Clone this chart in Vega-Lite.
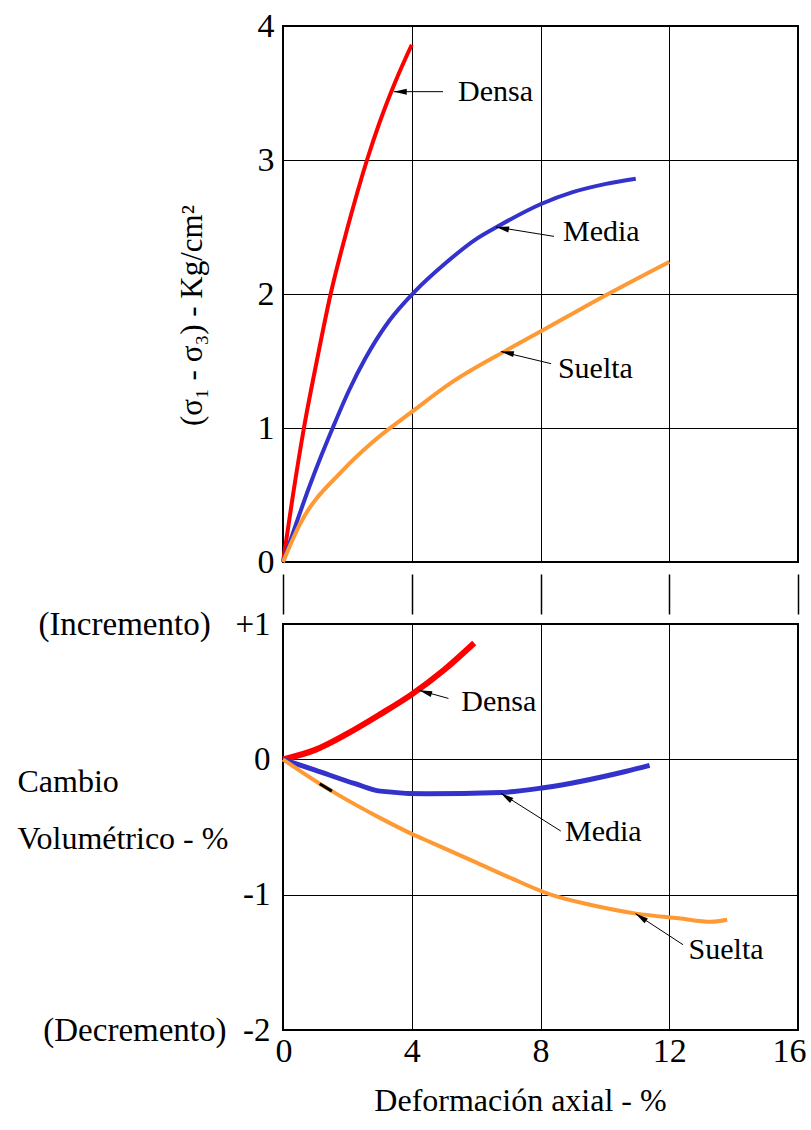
{
  "$schema": "https://vega.github.io/schema/vega-lite/v6.json",
  "background": "white",
  "padding": {"left": 16, "top": 8, "right": 0, "bottom": 0},
  "bounds": "flush",
  "spacing": 62,
  "config": {
    "view": {"stroke": "black", "strokeWidth": 2},
    "font": "Liberation Serif",
    "axis": {
      "labelFont": "Liberation Serif",
      "titleFont": "Liberation Serif",
      "labelColor": "black",
      "titleColor": "black",
      "titleFontWeight": "normal",
      "gridColor": "black",
      "gridOpacity": 1,
      "gridWidth": 1,
      "domain": false,
      "ticks": false,
      "labelFlush": false,
      "labelLimit": 0,
      "labelOverlap": false
    }
  },
  "datasets": {
    "esfuerzo": [
      {"serie": "Densa", "x": 0, "y": 0},
      {"serie": "Densa", "x": 0.31, "y": 0.5},
      {"serie": "Densa", "x": 0.65, "y": 1.0},
      {"serie": "Densa", "x": 1.05, "y": 1.5},
      {"serie": "Densa", "x": 1.48, "y": 2.0},
      {"serie": "Densa", "x": 2.0, "y": 2.49},
      {"serie": "Densa", "x": 2.61, "y": 3.0},
      {"serie": "Densa", "x": 3.0, "y": 3.28},
      {"serie": "Densa", "x": 3.5, "y": 3.59},
      {"serie": "Densa", "x": 4.0, "y": 3.86},
      {"serie": "Media", "x": 0, "y": 0},
      {"serie": "Media", "x": 0.4, "y": 0.28},
      {"serie": "Media", "x": 0.8, "y": 0.55},
      {"serie": "Media", "x": 1.2, "y": 0.8},
      {"serie": "Media", "x": 1.56, "y": 1.01},
      {"serie": "Media", "x": 2.05, "y": 1.28},
      {"serie": "Media", "x": 2.56, "y": 1.52},
      {"serie": "Media", "x": 3.3, "y": 1.8},
      {"serie": "Media", "x": 4.1, "y": 2.02},
      {"serie": "Media", "x": 5.0, "y": 2.22},
      {"serie": "Media", "x": 6.0, "y": 2.41},
      {"serie": "Media", "x": 6.64, "y": 2.5},
      {"serie": "Media", "x": 8.0, "y": 2.67},
      {"serie": "Media", "x": 9.0, "y": 2.76},
      {"serie": "Media", "x": 10.0, "y": 2.82},
      {"serie": "Media", "x": 10.96, "y": 2.86},
      {"serie": "Suelta", "x": 0, "y": 0},
      {"serie": "Suelta", "x": 0.5, "y": 0.27},
      {"serie": "Suelta", "x": 1.84, "y": 0.68},
      {"serie": "Suelta", "x": 2.76, "y": 0.89},
      {"serie": "Suelta", "x": 4.0, "y": 1.12},
      {"serie": "Suelta", "x": 5.24, "y": 1.34},
      {"serie": "Suelta", "x": 6.87, "y": 1.57},
      {"serie": "Suelta", "x": 8.0, "y": 1.72},
      {"serie": "Suelta", "x": 10.1, "y": 2.0},
      {"serie": "Suelta", "x": 12.0, "y": 2.24}
    ],
    "volumen": [
      {"serie": "Densa", "x": 0, "y": 0},
      {"serie": "Densa", "x": 1.0, "y": 0.07},
      {"serie": "Densa", "x": 2.0, "y": 0.19},
      {"serie": "Densa", "x": 3.0, "y": 0.33},
      {"serie": "Densa", "x": 4.0, "y": 0.48},
      {"serie": "Densa", "x": 5.0, "y": 0.66},
      {"serie": "Densa", "x": 5.94, "y": 0.86},
      {"serie": "Media", "x": 0, "y": 0},
      {"serie": "Media", "x": 1.0, "y": -0.08},
      {"serie": "Media", "x": 2.24, "y": -0.18},
      {"serie": "Media", "x": 3.02, "y": -0.235},
      {"serie": "Media", "x": 4.45, "y": -0.255},
      {"serie": "Media", "x": 6.77, "y": -0.245},
      {"serie": "Media", "x": 8.1, "y": -0.21},
      {"serie": "Media", "x": 10.64, "y": -0.09},
      {"serie": "Media", "x": 11.39, "y": -0.045},
      {"serie": "Suelta", "x": 0, "y": 0},
      {"serie": "Suelta", "x": 1.14, "y": -0.18},
      {"serie": "Suelta", "x": 1.52, "y": -0.235},
      {"serie": "Suelta", "x": 3.07, "y": -0.44},
      {"serie": "Suelta", "x": 4.08, "y": -0.56},
      {"serie": "Suelta", "x": 4.56, "y": -0.61},
      {"serie": "Suelta", "x": 5.89, "y": -0.75},
      {"serie": "Suelta", "x": 7.1, "y": -0.88},
      {"serie": "Suelta", "x": 8.32, "y": -1.0},
      {"serie": "Suelta", "x": 9.54, "y": -1.075},
      {"serie": "Suelta", "x": 10.97, "y": -1.14},
      {"serie": "Suelta", "x": 12.3, "y": -1.175},
      {"serie": "Suelta", "x": 13.3, "y": -1.2},
      {"serie": "Suelta", "x": 13.8, "y": -1.185}
    ],
    "etiquetas_sup": [
      {"serie": "Densa", "x": 5.44, "y": 3.51},
      {"serie": "Media", "x": 8.7, "y": 2.46},
      {"serie": "Suelta", "x": 8.54, "y": 1.44}
    ],
    "flechas_sup": [
      {"serie": "Densa", "x": 3.44, "y": 3.51, "x2": 4.97, "y2": 3.51},
      {"serie": "Media", "x": 6.62, "y": 2.5, "x2": 8.42, "y2": 2.43},
      {"serie": "Suelta", "x": 6.77, "y": 1.57, "x2": 8.33, "y2": 1.48}
    ],
    "etiquetas_inf": [
      {"serie": "Densa", "x": 5.54, "y": 0.42},
      {"serie": "Media", "x": 8.76, "y": -0.54},
      {"serie": "Suelta", "x": 12.6, "y": -1.41}
    ],
    "flechas_inf": [
      {"serie": "Densa", "x": 4.23, "y": 0.51, "x2": 5.14, "y2": 0.45},
      {"serie": "Media", "x": 6.77, "y": -0.25, "x2": 8.63, "y2": -0.53},
      {"serie": "Suelta", "x": 10.95, "y": -1.14, "x2": 12.43, "y2": -1.37}
    ],
    "marca": [
      {"x": 1.14, "y": -0.18, "x2": 1.52, "y2": -0.235}
    ]
  },
  "vconcat": [
    {
      "width": 515,
      "height": 536,
      "encoding": {
        "x": {
          "field": "x", "type": "quantitative",
          "scale": {"domain": [0, 16], "nice": false, "zero": false},
          "axis": {
            "values": [0, 4, 8, 12, 16], "grid": true, "labels": false,
            "ticks": true, "tickSize": 40, "tickColor": "black", "tickWidth": 1.5,
            "offset": 12, "title": null
          }
        },
        "y": {
          "field": "y", "type": "quantitative",
          "scale": {"domain": [0, 4], "nice": false},
          "axis": {
            "values": [0, 1, 2, 3, 4], "grid": true,
            "labelFontSize": 34, "labelPadding": 9,
            "title": "(σ₁ - σ₃) - Kg/cm²",
            "titleFontSize": 31, "titleAngle": -90,
            "titleX": -91, "titleY": 289, "titleBaseline": "middle", "titleAlign": "center"
          }
        }
      },
      "layer": [
        {
          "data": {"name": "esfuerzo"},
          "mark": {"type": "line", "interpolate": "monotone", "strokeWidth": 4},
          "encoding": {
            "color": {"field": "serie", "type": "nominal",
              "scale": {"domain": ["Densa", "Media", "Suelta"], "range": ["#FF0000", "#3333CC", "#FF9933"]},
              "legend": null}
          }
        },
        {
          "data": {"name": "flechas_sup"},
          "mark": {"type": "rule", "color": "black", "strokeWidth": 1},
          "encoding": {"x2": {"field": "x2"}, "y2": {"field": "y2"}}
        },
        {
          "data": {"name": "flechas_sup"},
          "transform": [{"filter": "datum.serie == 'Densa'"}],
          "mark": {"type": "point", "shape": "M0,0L1.3,-0.3L1.3,0.3Z", "filled": true, "color": "black", "opacity": 1, "size": 400, "angle": 0}
        },
        {
          "data": {"name": "flechas_sup"},
          "transform": [{"filter": "datum.serie != 'Densa'"}],
          "mark": {"type": "point", "shape": "M0,0L1.3,-0.3L1.3,0.3Z", "filled": true, "color": "black", "opacity": 1, "size": 400, "angle": 11}
        },
        {
          "data": {"name": "etiquetas_sup"},
          "mark": {"type": "text", "align": "left", "baseline": "middle", "fontSize": 30, "font": "Liberation Serif", "color": "black"},
          "encoding": {"text": {"field": "serie"}}
        }
      ]
    },
    {
      "width": 515,
      "height": 406,
      "encoding": {
        "x": {
          "field": "x", "type": "quantitative",
          "scale": {"domain": [0, 16], "nice": false, "zero": false},
          "axis": {
            "values": [0, 4, 8, 12, 16], "grid": true,
            "labelFontSize": 34, "labelPadding": 4,
            "labelFlush": true, "labelFlushOffset": 8,
            "title": "Deformación axial - %", "titleFontSize": 32,
            "titleX": 237, "titleY": 70, "titleBaseline": "middle"
          }
        },
        "y": {
          "field": "y", "type": "quantitative",
          "scale": {"domain": [-2, 1], "nice": false, "zero": false},
          "axis": {
            "values": [-2, -1, 0, 1], "grid": true,
            "labelFontSize": 33, "labelPadding": 13,
            "labelExpr": "datum.value == 1 ? '(Incremento)\u00a0\u00a0\u00a0+1' : datum.value == -2 ? '(Decremento)\u00a0\u00a0-2' : '' + datum.value",
            "title": ["Cambio", "Volumétrico - %"],
            "titleFontSize": 32, "titleAngle": 0, "titleAlign": "left",
            "titleBaseline": "middle", "titleX": -266, "titleY": 157, "titleLineHeight": 57
          }
        }
      },
      "layer": [
        {
          "data": {"name": "volumen"},
          "mark": {"type": "line", "interpolate": "monotone"},
          "encoding": {
            "color": {"field": "serie", "type": "nominal",
              "scale": {"domain": ["Densa", "Media", "Suelta"], "range": ["#FF0000", "#3333CC", "#FF9933"]},
              "legend": null},
            "strokeWidth": {"field": "serie", "type": "nominal",
              "scale": {"domain": ["Densa", "Media", "Suelta"], "range": [6, 4, 4]},
              "legend": null}
          }
        },
        {
          "data": {"name": "marca"},
          "mark": {"type": "rule", "color": "black", "strokeWidth": 3},
          "encoding": {"x2": {"field": "x2"}, "y2": {"field": "y2"}}
        },
        {
          "data": {"name": "flechas_inf"},
          "mark": {"type": "rule", "color": "black", "strokeWidth": 1},
          "encoding": {"x2": {"field": "x2"}, "y2": {"field": "y2"}}
        },
        {
          "data": {"name": "flechas_inf"},
          "transform": [{"filter": "datum.serie == 'Densa'"}],
          "mark": {"type": "point", "shape": "M0,0L1.3,-0.3L1.3,0.3Z", "filled": true, "color": "black", "opacity": 1, "size": 400, "angle": 17}
        },
        {
          "data": {"name": "flechas_inf"},
          "transform": [{"filter": "datum.serie != 'Densa'"}],
          "mark": {"type": "point", "shape": "M0,0L1.3,-0.3L1.3,0.3Z", "filled": true, "color": "black", "opacity": 1, "size": 400, "angle": 34}
        },
        {
          "data": {"name": "etiquetas_inf"},
          "mark": {"type": "text", "align": "left", "baseline": "middle", "fontSize": 30, "font": "Liberation Serif", "color": "black"},
          "encoding": {"text": {"field": "serie"}}
        }
      ]
    }
  ]
}
